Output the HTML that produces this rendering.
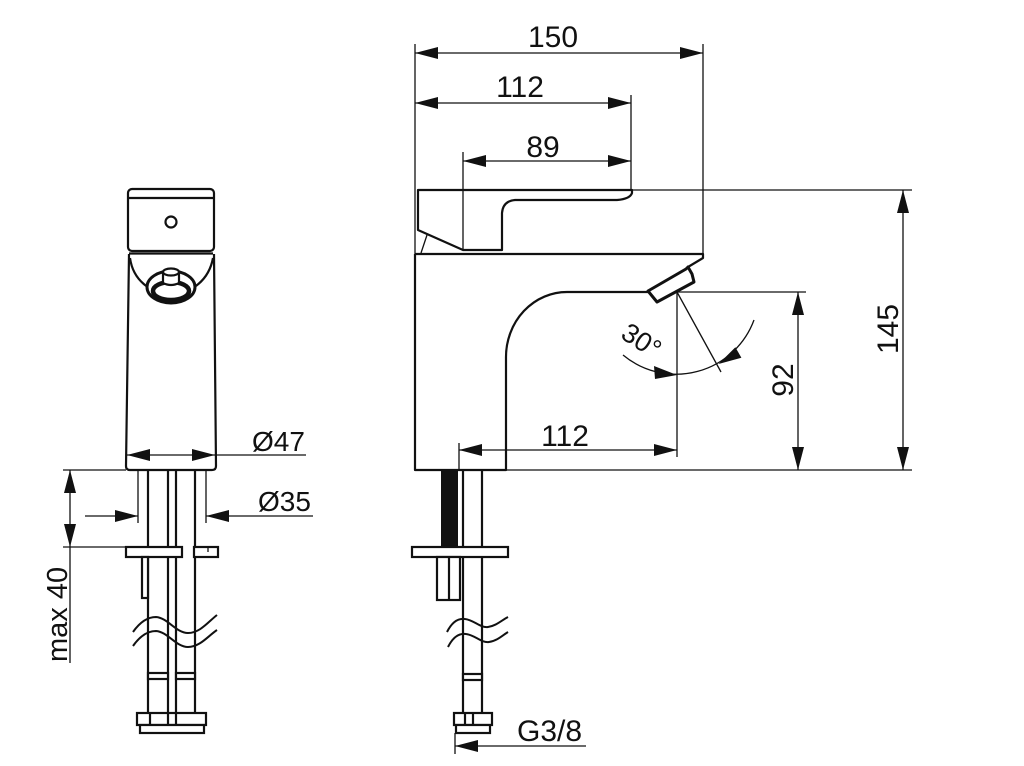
<!DOCTYPE html>
<html><head><meta charset="utf-8"><style>
html,body{margin:0;padding:0;background:#fff;}
svg{display:block;}
text{font-family:"Liberation Sans",Arial,sans-serif;fill:#111;}
</style></head><body>
<svg width="1024" height="766" viewBox="0 0 1024 766" xmlns="http://www.w3.org/2000/svg">
<rect width="1024" height="766" fill="#fff"/>

<!-- ===== thin dimension / extension lines ===== -->
<g stroke="#111" stroke-width="1.3" fill="none">
  <!-- right view top dims -->
  <line x1="415" y1="44" x2="415" y2="254"/>
  <line x1="703" y1="44" x2="703" y2="256"/>
  <line x1="415" y1="53" x2="703" y2="53"/>
  <line x1="631" y1="95" x2="631" y2="190"/>
  <line x1="415" y1="103" x2="631" y2="103"/>
  <line x1="463" y1="152" x2="463" y2="250"/>
  <line x1="463" y1="161" x2="631" y2="161"/>
  <!-- right side dims -->
  <line x1="632" y1="190" x2="912" y2="190"/>
  <line x1="506" y1="470" x2="912" y2="470"/>
  <line x1="903" y1="190" x2="903" y2="470"/>
  <line x1="677" y1="292" x2="806" y2="292"/>
  <line x1="798" y1="292" x2="798" y2="470"/>
  <line x1="677" y1="292" x2="677" y2="457"/>
  <line x1="677" y1="292" x2="721" y2="372"/>
  <path d="M623,355 A83,83 0 0 0 754,320"/>
  <!-- lower 112 -->
  <line x1="459" y1="443" x2="459" y2="470"/>
  <line x1="459" y1="450" x2="677" y2="450"/>
  <!-- G3/8 -->
  <line x1="455" y1="733" x2="455" y2="754"/>
  <line x1="455" y1="746" x2="586" y2="746"/>
  <!-- small detail line on handle -->
  <line x1="421" y1="253" x2="427" y2="235"/>

  <!-- left view dims -->
  <line x1="126" y1="455" x2="306" y2="455"/>
  <line x1="63" y1="470" x2="126" y2="470"/>
  <line x1="63" y1="547" x2="126" y2="547"/>
  <line x1="70" y1="470" x2="70" y2="663"/>
  <line x1="138" y1="470" x2="138" y2="523"/>
  <line x1="206" y1="470" x2="206" y2="523"/>
  <line x1="85" y1="516" x2="138" y2="516"/>
  <line x1="206" y1="516" x2="313" y2="516"/>
</g>

<!-- ===== arrowheads ===== -->
<g fill="#111" stroke="none">
  <polygon points="415,53 438,47 438,59"/>
  <polygon points="703,53 680,47 680,59"/>
  <polygon points="415,103 438,97 438,109"/>
  <polygon points="631,103 608,97 608,109"/>
  <polygon points="463,161 486,155 486,167"/>
  <polygon points="631,161 608,155 608,167"/>
  <polygon points="459,450 482,444 482,456"/>
  <polygon points="677,450 654,444 654,456"/>
  <polygon points="903,190 897,213 909,213"/>
  <polygon points="903,470 897,447 909,447"/>
  <polygon points="798,292 792,315 804,315"/>
  <polygon points="798,470 792,447 804,447"/>
  <polygon points="677,375 654,366 655,379"/>
  <polygon points="718.5,364 741.4,357.7 735.4,347.3"/>
  <polygon points="455,746 478,740 478,752"/>
  <polygon points="127,455 150,449 150,461"/>
  <polygon points="215,455 192,449 192,461"/>
  <polygon points="138,516 115,510 115,522"/>
  <polygon points="206,516 229,510 229,522"/>
  <polygon points="70,470 64,493 76,493"/>
  <polygon points="70,547 64,524 76,524"/>
</g>

<!-- ===== right view outlines ===== -->
<g stroke="#111" stroke-width="2.2" fill="none" stroke-linejoin="round">
  <!-- handle -->
  <path d="M418,190 L632,190 L632,193 Q630,199 617,200 L515,200 Q503,201 502,213 L502,250 L463,250 L418,230 Z"/>
  <!-- body -->
  <path d="M415,254 L703,254 L703,258 L688,267"/>
  <path d="M415,254 L415,470 L506,470 L506,357 A61,65 0 0 1 567,292 L650,292"/>
  <!-- pipe -->
  <line x1="463" y1="470" x2="463" y2="713"/>
  <line x1="482" y1="470" x2="482" y2="713"/>
</g>
<!-- aerator -->
<polygon points="648,291 686,269 688,267 692,274 694,282 657,302" fill="#fff" stroke="#111" stroke-width="3" stroke-linejoin="round"/>
<!-- threaded rod -->
<rect x="441" y="470" width="17" height="77" fill="#111"/>
<g stroke="#111" stroke-width="2.2" fill="#fff">
  <rect x="412" y="547" width="96" height="10"/>
  <rect x="437" y="557" width="23" height="43"/>
  <line x1="449" y1="557" x2="449" y2="600"/>
  <rect x="463" y="674" width="19" height="6"/>
  <rect x="454" y="713" width="38" height="12"/>
  <rect x="456" y="725" width="34" height="8"/>
  <line x1="465" y1="713" x2="465" y2="725"/>
  <line x1="473" y1="713" x2="473" y2="725"/>
</g>
<g stroke="#111" stroke-width="2" fill="none">
  <path d="M447,632 C452,622 458,618 465,619 C474,620 480,628 488,627 C496,626 502,620 508,617"/>
  <path d="M448,647 C453,637 459,633 466,634 C475,635 481,643 489,642 C497,641 503,635 508,632"/>
</g>

<!-- ===== left view ===== -->
<g stroke="#111" stroke-width="2.2" fill="none" stroke-linejoin="round">
  <rect x="128" y="189" width="86" height="62" rx="4"/>
  <line x1="129" y1="198" x2="213" y2="198"/>
  <line x1="129" y1="253.5" x2="213" y2="253.5"/>
  <circle cx="171" cy="222" r="5.5"/>
  <path d="M129,254 L126,466 Q126,470 130,470 L212,470 Q216,470 216,466 L214,254"/>
  <path d="M130,258 C133,280 150,293 171,295 C192,293 209,280 213,258"/>
</g>
<ellipse cx="171" cy="287" rx="24" ry="16" fill="#fff" stroke="#111" stroke-width="3"/>
<ellipse cx="171" cy="291" rx="18" ry="9" fill="#fff" stroke="#111" stroke-width="4.5"/>
<path d="M163,272 L163,283 Q171,287 179,283 L179,272" fill="#fff" stroke="#111" stroke-width="2.2"/>
<ellipse cx="171" cy="272" rx="8" ry="3.5" fill="#fff" stroke="#111" stroke-width="2.2"/>

<g stroke="#111" stroke-width="2.2" fill="none">
  <line x1="148" y1="470" x2="148" y2="713"/>
  <line x1="168" y1="470" x2="168" y2="713"/>
  <line x1="176" y1="470" x2="176" y2="713"/>
  <line x1="195" y1="470" x2="195" y2="713"/>
</g>
<g stroke="#111" stroke-width="2.2" fill="#fff">
  <rect x="126" y="547" width="56" height="10"/>
  <rect x="194" y="547" width="24" height="10"/>
  <rect x="142" y="557" width="6" height="41"/>
  <rect x="148" y="673" width="20" height="6"/>
  <rect x="176" y="673" width="19" height="6"/>
  <rect x="137" y="713" width="69" height="12"/>
  <rect x="140" y="725" width="64" height="8"/>
  <line x1="150" y1="713" x2="150" y2="725"/>
  <line x1="168" y1="713" x2="168" y2="725"/>
  <line x1="176" y1="713" x2="176" y2="725"/>
</g>
<line x1="208" y1="548" x2="208" y2="552" stroke="#111" stroke-width="1.3"/>
<g stroke="#111" stroke-width="2" fill="none">
  <path d="M133,632 C140,622 148,617 156,617 C168,618 176,633 188,633 C200,633 208,622 217,615"/>
  <path d="M133,646 C140,636 148,631 156,631 C168,632 176,647 188,647 C200,647 208,636 217,630"/>
</g>

<!-- ===== text ===== -->
<g font-size="30">
  <text x="553" y="47" text-anchor="middle">150</text>
  <text x="520" y="97" text-anchor="middle">112</text>
  <text x="543" y="157" text-anchor="middle">89</text>
  <text x="565" y="446" text-anchor="middle">112</text>
  <text x="517" y="741">G3/8</text>
  <text transform="translate(793,380) rotate(-90)" text-anchor="middle">92</text>
  <text transform="translate(898,329) rotate(-90)" text-anchor="middle">145</text>
</g>
<text x="252" y="451" font-size="28">Ø47</text>
<text x="258" y="511" font-size="28">Ø35</text>
<text transform="translate(67,662) rotate(-90)" font-size="29">max 40</text>
<text transform="translate(642,340) rotate(33)" text-anchor="middle" dy="10" font-size="27">30°</text>
</svg>
</body></html>
